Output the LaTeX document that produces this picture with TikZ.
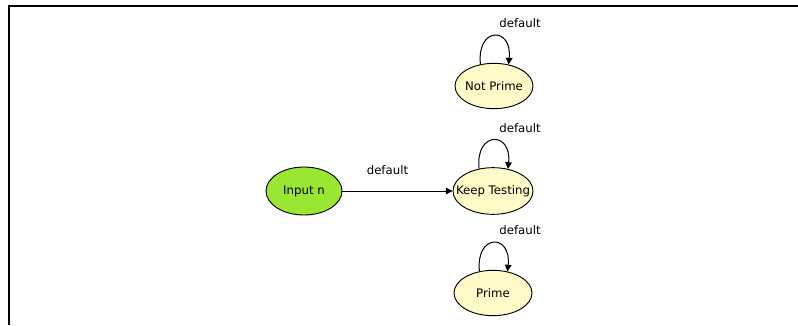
\documentclass[tikz,border=0pt]{standalone}
\usepackage{fontspec}
\setmainfont{DejaVu Sans}
\usetikzlibrary{shapes.geometric,arrows.meta}
\definecolor{stategreen}{RGB}{153,230,51}
\definecolor{statecream}{RGB}{255,251,200}
\tikzset{
  state/.style={ellipse, draw=black, line width=0.7pt, inner sep=0pt,
    minimum width=58.5pt, minimum height=34pt,
    label={[font=\fontsize{8.8}{10}\selectfont]center:#1}},
  lbl/.style={font=\fontsize{8.8}{10}\selectfont, inner sep=0pt},
  trans/.style={line width=0.75pt, -{Triangle[width=5pt,length=5pt]}},
  frameline/.style={line width=1.5pt}
}
\begin{document}
\begin{tikzpicture}[x=0.75pt, y=-0.75pt]
\useasboundingbox (0,0) rectangle (798,325);
% frame
\coordinate (fc) at (8.5,5.5);
\coordinate (fr) at (798,5.5);
\coordinate (fb) at (8.5,325);
\draw[frameline] (fr) -- (fc) -- (fb);

% states
\node[state=Input n, fill=stategreen, minimum width=57pt, minimum height=36pt] (in) at (304,191) {};
\node[state=Not Prime, fill=statecream] (np) at (494,86) {};
\node[state=Keep Testing, fill=statecream, minimum width=60pt, minimum height=35pt] (kt) at (493,191) {};
\node[state=Prime, fill=statecream] (pr) at (493,293) {};

% transitions
\draw[trans] (in) -- (kt);
\path (in.east) ++(45,-21) node[lbl] (inl) {default};

\draw[trans] (np.122) .. controls +(-4,-38) and +(4,-38) .. (np.56);
\path (np.center) ++(26,-63) node[lbl] (npl) {default};

\draw[trans] (kt.122) .. controls +(-4,-38) and +(4,-38) .. (kt.56);
\path (kt.center) ++(27,-63) node[lbl] (ktl) {default};

\draw[trans] (pr.122) .. controls +(-4,-38) and +(4,-38) .. (pr.56);
\path (pr.center) ++(27,-63) node[lbl] (prl) {default};
\end{tikzpicture}
\end{document}
